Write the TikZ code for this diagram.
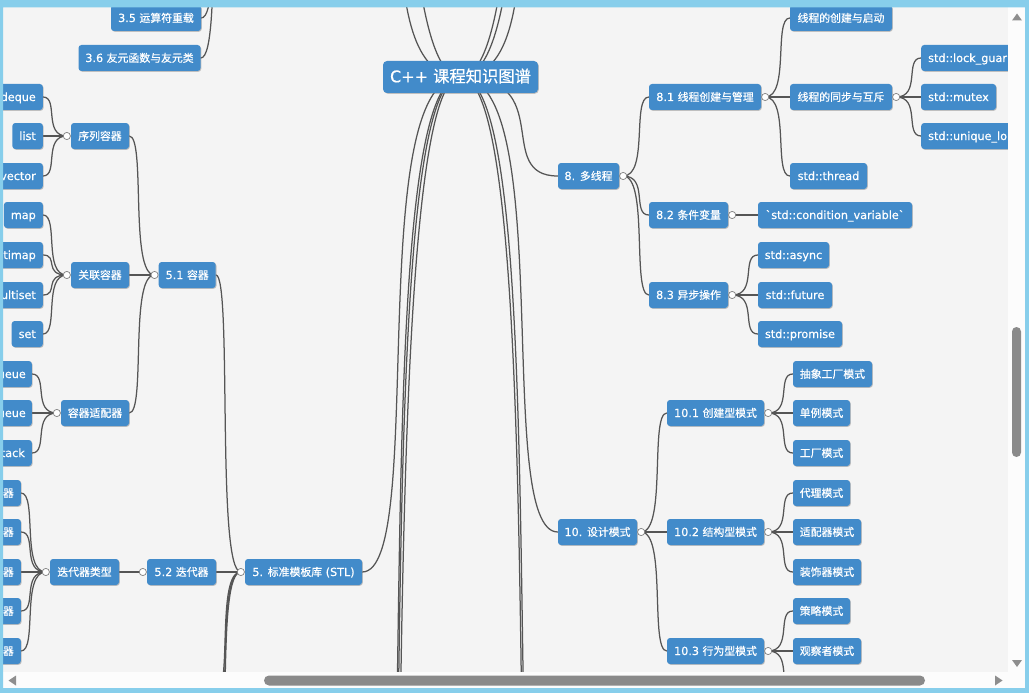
\documentclass[tikz,border=0pt]{standalone}
\usepackage{fontspec}
\setmainfont{DejaVu Sans}[FakeBold=0.5]
\newfontfamily\zhfont{Noto Sans CJK SC}[Scale=0.97,FakeBold=0.5]
\newfontfamily\rawfont{DejaVu Sans}[FakeBold=0.5]
\usetikzlibrary{calc,shadows}
\definecolor{jmblue}{HTML}{428BCA}
\definecolor{canvasbg}{HTML}{F4F4F4}
\definecolor{linecol}{HTML}{555555}
\definecolor{frameblue}{RGB}{135,206,235}
\definecolor{thumbgray}{HTML}{8A8A8A}
\definecolor{arrowgray}{HTML}{8E8E8E}
\definecolor{trackwhite}{HTML}{FCFCFC}
\newcommand{\zh}[1]{{\zhfont #1}}
\newcommand{\jml}[2]{\draw[jmlink] let \p1=(#1), \p2=(#2) in (\p1) .. controls ({\x1+(\x2-\x1)*2/3},\y1) and (\x1,\y2) .. (\p2);}
\pgfdeclarelayer{bg}
\pgfdeclarelayer{canvas}
\pgfdeclarelayer{top}
\pgfsetlayers{canvas,bg,main,top}
\begin{document}
\begin{tikzpicture}[x=1pt,y=-1pt,
  jmnode/.style={fill=jmblue, text=white, rounded corners=3pt, minimum height=26pt,
    inner xsep=0pt, inner ysep=0pt, text height=10pt, text depth=2pt,
    font=\fontsize{11.2}{13}\selectfont,
    drop shadow={shadow xshift=0.8pt, shadow yshift=-0.8pt, opacity=0.45}},
  jmleaf/.style={jmnode, inner xsep=7pt},
  jmexp/.style={circle, draw=gray, fill=white, line width=0.7pt, minimum size=7.2pt, inner sep=0pt},
  jmlink/.style={draw=linecol, line width=1.25pt, line cap=round}]
\useasboundingbox (0,0) rectangle (1029,693);
\begin{pgfonlayer}{canvas}
\fill[canvasbg] (0,0) rectangle (1029,693);
\end{pgfonlayer}

% ---------- root
\node[jmnode, minimum width=155pt, minimum height=32pt, text height=14pt, text depth=3.5pt,
      font=\fontsize{16}{19}\selectfont, rounded corners=4pt] (root) at (460.5,77)
      {C++ {\fontsize{16.8}{19}\selectfont\zh{课程知识图谱}}};

% ---------- right: 8
\node[jmnode, minimum width=61pt] (n8) at (588.5,176) {8. \zh{多线程}};
\node[jmnode, minimum width=112pt] (n81) at (705,97) {8.1 \zh{线程创建与管理}};
\node[jmnode, minimum width=79pt] (n82) at (688.5,215) {8.2 \zh{条件变量}};
\node[jmnode, minimum width=79pt] (n83) at (688.5,295) {8.3 \zh{异步操作}};
\node[jmnode, minimum width=102pt] (n811) at (841,18) {\zh{线程的创建与启动}};
\node[jmnode, minimum width=102pt] (n812) at (841,97) {\zh{线程的同步与互斥}};
\node[jmnode, minimum width=77pt] (n813) at (828.5,176) {std::thread};
\node[jmleaf, anchor=west] (n8121) at (921,58) {std::lock\_guar};
\node[jmnode, minimum width=75pt] (n8122) at (958.5,97) {std::mutex};
\node[jmleaf, anchor=west] (n8123) at (921,136) {std::unique\_lo};
\node[jmnode, minimum width=154pt] (n821) at (835,215) {{\rawfont\symbol{96}}std::condition\_variable{\rawfont\symbol{96}}};
\node[jmnode, minimum width=71pt] (n831) at (793.5,255) {std::async};
\node[jmnode, minimum width=74pt] (n832) at (795,295) {std::future};
\node[jmnode, minimum width=84pt] (n833) at (800,334) {std::promise};

% ---------- right: 10
\node[jmnode, minimum width=79pt] (n10) at (597.5,532) {10. \zh{设计模式}};
\node[jmnode, minimum width=97pt] (n101) at (715.5,413) {10.1 \zh{创建型模式}};
\node[jmnode, minimum width=97pt] (n102) at (715.5,532) {10.2 \zh{结构型模式}};
\node[jmnode, minimum width=97pt] (n103) at (715.5,651) {10.3 \zh{行为型模式}};
\node[jmnode, minimum width=79pt] (n1011) at (832.5,374) {\zh{抽象工厂模式}};
\node[jmnode, minimum width=57pt] (n1012) at (821.5,413) {\zh{单例模式}};
\node[jmnode, minimum width=57pt] (n1013) at (821.5,453) {\zh{工厂模式}};
\node[jmnode, minimum width=57pt] (n1021) at (821.5,493) {\zh{代理模式}};
\node[jmnode, minimum width=68pt] (n1022) at (827,532) {\zh{适配器模式}};
\node[jmnode, minimum width=68pt] (n1023) at (827,572) {\zh{装饰器模式}};
\node[jmnode, minimum width=57pt] (n1031) at (821.5,611) {\zh{策略模式}};
\node[jmnode, minimum width=68pt] (n1032) at (827,651) {\zh{观察者模式}};

% ---------- left: 5
\node[jmnode, minimum width=117pt] (n5) at (303.5,572) {5. \zh{标准模板库} (STL)};
\node[jmnode, minimum width=57pt] (n51) at (187.2,275) {5.1 \zh{容器}};
\node[jmnode, minimum width=69pt] (n52) at (181.5,572) {5.2 \zh{迭代器}};
\node[jmnode, minimum width=58pt] (n511) at (100,136) {\zh{序列容器}};
\node[jmnode, minimum width=58pt] (n512) at (100,275) {\zh{关联容器}};
\node[jmnode, minimum width=68pt] (n513) at (95,413) {\zh{容器适配器}};
\node[jmnode, minimum width=69pt] (n521) at (84.5,572) {\zh{迭代器类型}};
\node[jmleaf, anchor=east] (l1) at (43,97) {deque};
\node[jmleaf, anchor=east] (l2) at (43,136) {list};
\node[jmleaf, anchor=east] (l3) at (43,176) {vector};
\node[jmleaf, anchor=east] (l4) at (43,215) {map};
\node[jmleaf, anchor=east] (l5) at (43,255) {timap};
\node[jmleaf, anchor=east] (l6) at (43,295) {ultiset};
\node[jmleaf, anchor=east] (l7) at (43,334) {set};
\node[jmleaf, anchor=east, inner xsep=6pt] (l8) at (32,374) {ueue};
\node[jmleaf, anchor=east, inner xsep=6pt] (l9) at (32,413) {ueue};
\node[jmleaf, anchor=east] (l10) at (32,453) {tack};
\node[jmleaf, anchor=east] (i1) at (21,493) {\zh{器}};
\node[jmleaf, anchor=east] (i2) at (21,532) {\zh{器}};
\node[jmleaf, anchor=east] (i3) at (21,572) {\zh{器}};
\node[jmleaf, anchor=east] (i4) at (21,611) {\zh{器}};
\node[jmleaf, anchor=east] (i5) at (21,651) {\zh{器}};
\node[jmnode, minimum width=90pt] (n35) at (156,18) {3.5 \zh{运算符重载}};
\node[jmnode, minimum width=122pt] (n36) at (139.5,58) {3.6 \zh{友元函数与友元类}};

% ---------- expanders
\node[jmexp, anchor=west] (c8) at (n8.east) {};
\node[jmexp, anchor=west] (c81) at (n81.east) {};
\node[jmexp, anchor=west] (c812) at (n812.east) {};
\node[jmexp, anchor=west] (c82) at (n82.east) {};
\node[jmexp, anchor=west] (c83) at (n83.east) {};
\node[jmexp, anchor=west] (c10) at (n10.east) {};
\node[jmexp, anchor=west] (c101) at (n101.east) {};
\node[jmexp, anchor=west] (c102) at (n102.east) {};
\node[jmexp, anchor=west] (c103) at (n103.east) {};
\node[jmexp, anchor=east] (c5) at (n5.west) {};
\node[jmexp, anchor=east] (c51) at (n51.west) {};
\node[jmexp, anchor=east] (c52) at (n52.west) {};
\node[jmexp, anchor=east] (c511) at (n511.west) {};
\node[jmexp, anchor=east] (c512) at (n512.west) {};
\node[jmexp, anchor=east] (c513) at (n513.west) {};
\node[jmexp, anchor=east] (c521) at (n521.west) {};

% ---------- off-screen ends
\coordinate (ra1) at (558,-886);
\coordinate (ra2) at (558,-596);
\coordinate (ra3) at (558,-198);
\coordinate (rb1) at (558,1057);
\coordinate (rb2) at (558,1300);
\coordinate (la1) at (362,-213);
\coordinate (la2) at (362,-886);
\coordinate (lb1) at (362,1077);
\coordinate (lb2) at (362,1250);
\coordinate (lb3) at (362,1577);
\coordinate (c3) at (237,-213);
\coordinate (s53) at (216,692);
\coordinate (s54) at (216,731);
\coordinate (s55) at (216,771);
\coordinate (s1033) at (793,690);

% ---------- connectors
\begin{pgfonlayer}{bg}
\jml{n8.west}{root.center}
\jml{n10.west}{root.center}
\jml{ra1}{root.center}
\jml{ra2}{root.center}
\jml{ra3}{root.center}
\jml{rb1}{root.center}
\jml{rb2}{root.center}
\jml{n5.east}{root.center}
\jml{la1}{root.center}
\jml{la2}{root.center}
\jml{lb1}{root.center}
\jml{lb2}{root.center}
\jml{lb3}{root.center}
\jml{n81.west}{c8.center}
\jml{n82.west}{c8.center}
\jml{n83.west}{c8.center}
\jml{n811.west}{c81.center}
\jml{n812.west}{c81.center}
\jml{n813.west}{c81.center}
\jml{n8121.west}{c812.center}
\jml{n8122.west}{c812.center}
\jml{n8123.west}{c812.center}
\jml{n821.west}{c82.center}
\jml{n831.west}{c83.center}
\jml{n832.west}{c83.center}
\jml{n833.west}{c83.center}
\jml{n101.west}{c10.center}
\jml{n102.west}{c10.center}
\jml{n103.west}{c10.center}
\jml{n1011.west}{c101.center}
\jml{n1012.west}{c101.center}
\jml{n1013.west}{c101.center}
\jml{n1021.west}{c102.center}
\jml{n1022.west}{c102.center}
\jml{n1023.west}{c102.center}
\jml{n1031.west}{c103.center}
\jml{n1032.west}{c103.center}
\jml{s1033}{c103.center}
\jml{n51.east}{c5.center}
\jml{n52.east}{c5.center}
\jml{s53}{c5.center}
\jml{s54}{c5.center}
\jml{s55}{c5.center}
\jml{n511.east}{c51.center}
\jml{n512.east}{c51.center}
\jml{n513.east}{c51.center}
\jml{l1.east}{c511.center}
\jml{l2.east}{c511.center}
\jml{l3.east}{c511.center}
\jml{l4.east}{c512.center}
\jml{l5.east}{c512.center}
\jml{l6.east}{c512.center}
\jml{l7.east}{c512.center}
\jml{l8.east}{c513.center}
\jml{l9.east}{c513.center}
\jml{l10.east}{c513.center}
\jml{n521.east}{c52.center}
\jml{i1.east}{c521.center}
\jml{i2.east}{c521.center}
\jml{i3.east}{c521.center}
\jml{i4.east}{c521.center}
\jml{i5.east}{c521.center}
\jml{n35.east}{c3}
\jml{n36.east}{c3}
\end{pgfonlayer}

% ---------- window frame and scrollbars
\begin{pgfonlayer}{top}
\fill[trackwhite] (1008,7) rectangle (1025,688);
\fill[trackwhite] (3,672) rectangle (1008,688);
\fill[frameblue, even odd rule] (0,0) rectangle (1029,693) (3,7.3) rectangle (1025,688);
\fill[thumbgray, rounded corners=4.5pt] (1012,327) rectangle (1021,457);
\fill[thumbgray, rounded corners=5pt] (264,675.5) rectangle (925,685.5);
\fill[arrowgray] (1012,20.5) -- (1022,20.5) -- (1017,13.5) -- cycle;
\fill[arrowgray] (1012,660) -- (1022,660) -- (1017,667) -- cycle;
\fill[arrowgray] (995,675.5) -- (995,685.5) -- (1002.5,680.5) -- cycle;
\fill[arrowgray] (16,675.5) -- (16,685.5) -- (8.5,680.5) -- cycle;
\end{pgfonlayer}
\end{tikzpicture}
\end{document}
